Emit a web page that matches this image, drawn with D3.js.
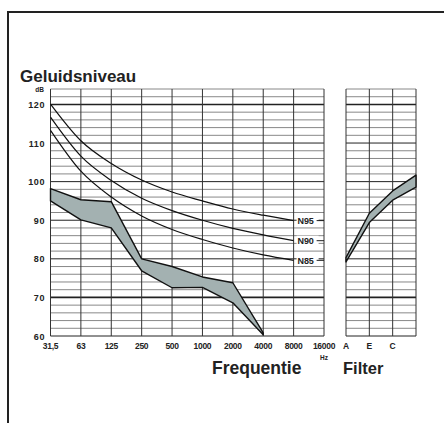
<!DOCTYPE html>
<html>
<head>
<meta charset="utf-8">
<script src="https://cdn.jsdelivr.net/npm/d3@7"></script>
<style>
  body { margin: 0; background: #fff; }
  text { font-family: "Liberation Sans", Arial, sans-serif; fill: #222; }
</style>
</head>
<body>
<div id="chart"></div>
<script>
// frequency bands (octaves) and their tick labels
let freqs = ["31,5", "63", "125", "250", "500", "1000", "2000", "4000", "8000", "16000"];
let yTicks = [60, 70, 80, 90, 100, 110, 120];

// noise rating curves, 31,5 .. 8000 Hz
let n95 = [120.1, 110.6, 104.7, 100.4, 97.3, 95.0, 92.9, 91.3, 89.9];
let n90 = [116.7, 106.6, 100.3, 95.7, 92.5, 90.0, 87.9, 86.2, 84.7];
let n85 = [113.3, 102.7, 96.0, 91.1, 87.6, 85.0, 82.8, 81.0, 79.6];
let curveNames = ["N95", "N90", "N85"];

// measured spectrum band, 31,5 .. 4000 Hz
let bandHigh = [98.2, 95.3, 94.8, 80.0, 78.0, 75.3, 73.8, 60.8];
let bandLow = [95.0, 90.1, 88.0, 76.9, 72.5, 72.6, 68.6, 60.3];

// filter panel
let filters = ["A", "E", "C", ""];
let filterHigh = [80.3, 91.8, 97.6, 101.7];
let filterLow = [79.2, 89.4, 95.2, 98.6];

let width = 444, height = 423;
let svg = d3.select("#chart").append("svg").attr("width", width).attr("height", height);

// frame
svg.append("path").attr("d", `M8,${height} V12 H${width}`)
  .attr("fill", "none").attr("stroke", "#222").attr("stroke-width", 2);

let y = d3.scaleLinear().domain([60, 124]).range([336, 89]);
let x = d3.scaleLinear().domain([0, freqs.length - 1]).range([50.5, 324]);
let xf = d3.scaleLinear().domain([0, filters.length - 1]).range([346, 416]);

let drawGrid = (g, x0, x1, xs) => {
  let minor = d3.range(60, 125, 2).filter(v => v % 10 != 0);
  g.selectAll(".minor").data(minor).enter().append("line")
    .attr("x1", x0).attr("x2", x1)
    .attr("y1", d => y(d)).attr("y2", d => y(d))
    .attr("stroke", "#7a7a7a").attr("stroke-width", 0.9);
  g.selectAll(".major").data(yTicks).enter().append("line")
    .attr("x1", x0).attr("x2", x1)
    .attr("y1", d => y(d)).attr("y2", d => y(d))
    .attr("stroke", "#222")
    .attr("stroke-width", d => (d == 70 || d == 120) ? 1.6 : 1);
  g.selectAll(".vert").data(xs).enter().append("line")
    .attr("x1", d => d).attr("x2", d => d)
    .attr("y1", y(124)).attr("y2", y(60))
    .attr("stroke", "#333").attr("stroke-width", 1);
};

drawGrid(svg.append("g"), x(0), x(freqs.length - 1), freqs.map((d, i) => x(i)));
drawGrid(svg.append("g"), xf(0), xf(filters.length - 1), filters.map((d, i) => xf(i)));

// y axis labels
svg.append("g").selectAll("text").data(yTicks).enter().append("text")
  .attr("x", 45).attr("y", d => y(d) + 3.5)
  .attr("text-anchor", "end").attr("font-size", 9).attr("font-weight", "bold")
  .attr("letter-spacing", 0.6)
  .text(d => d);
svg.append("text").attr("x", 44).attr("y", 92).attr("text-anchor", "end")
  .attr("font-size", 6.5).attr("font-weight", "bold").text("dB");

// x axis labels
svg.append("g").selectAll("text").data(freqs).enter().append("text")
  .attr("x", (d, i) => x(i)).attr("y", 349)
  .attr("text-anchor", "middle").attr("font-size", 8.5).attr("font-weight", "bold")
  .attr("letter-spacing", -0.3)
  .text(d => d);
svg.append("g").selectAll("text").data(filters).enter().append("text")
  .attr("x", (d, i) => xf(i)).attr("y", 349)
  .attr("text-anchor", "middle").attr("font-size", 8.5).attr("font-weight", "bold")
  .text(d => d);
svg.append("text").attr("x", 324).attr("y", 360).attr("text-anchor", "middle")
  .attr("font-size", 6.5).attr("font-weight", "bold").text("Hz");

// titles
svg.append("text").attr("x", 20).attr("y", 82).attr("font-size", 17)
  .attr("font-weight", "bold").text("Geluidsniveau");
svg.append("text").attr("x", 212).attr("y", 374).attr("font-size", 17.5)
  .attr("font-weight", "bold").text("Frequentie");
svg.append("text").attr("x", 343).attr("y", 374).attr("font-size", 16.5)
  .attr("font-weight", "bold").text("Filter");

// measured band
let area = d3.area().x((d, i) => x(i)).y0(d => y(d[1])).y1(d => y(d[0]));
svg.append("path").datum(d3.zip(bandHigh, bandLow)).attr("d", area)
  .attr("fill", "#a3b1b1").attr("stroke", "#111").attr("stroke-width", 1.4)
  .attr("stroke-linejoin", "round");

let areaF = d3.area().x((d, i) => xf(i)).y0(d => y(d[1])).y1(d => y(d[0]));
svg.append("path").datum(d3.zip(filterHigh, filterLow)).attr("d", areaF)
  .attr("fill", "#a3b1b1").attr("stroke", "#111").attr("stroke-width", 1.4)
  .attr("stroke-linejoin", "round");

// NR curves
let line = d3.line().x((d, i) => x(i)).y(d => y(d)).curve(d3.curveMonotoneX);
[n95, n90, n85].forEach((c, k) => {
  svg.append("path").datum(c).attr("d", line)
    .attr("fill", "none").attr("stroke", "#111").attr("stroke-width", 1.2);
  let last = c[c.length - 1];
  svg.append("rect").attr("x", x(8) + 3).attr("y", y(last) - 5)
    .attr("width", 22).attr("height", 10).attr("fill", "#fff");
  svg.append("text").attr("x", x(8) + 4).attr("y", y(last) + 3.5)
    .attr("font-size", 9).attr("font-weight", "bold").attr("letter-spacing", -0.2)
    .text(curveNames[k]);
  svg.append("line").attr("x1", x(8) + 23).attr("x2", x(9))
    .attr("y1", y(last)).attr("y2", y(last))
    .attr("stroke", "#222").attr("stroke-width", 1);
});
</script>
</body>
</html>
